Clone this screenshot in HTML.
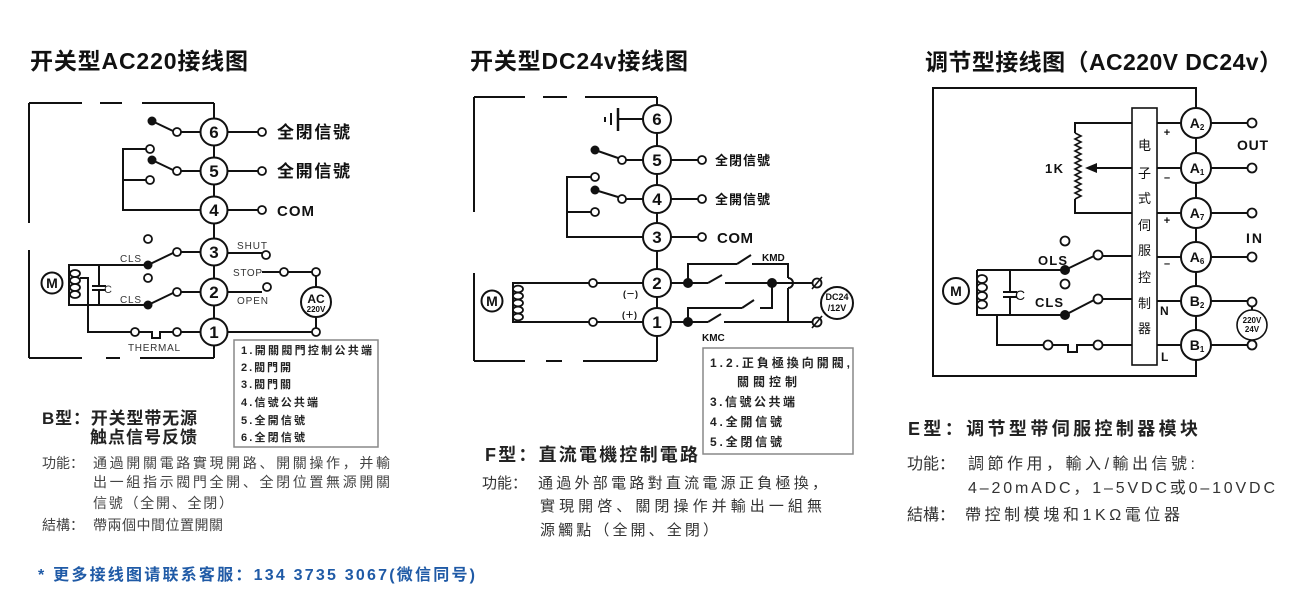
<!DOCTYPE html>
<html><head><meta charset="utf-8">
<style>
html,body{margin:0;padding:0;background:#fff;}
svg{display:block;}
text{font-family:"Liberation Sans","Noto Sans CJK SC",sans-serif;}
</style></head><body>
<svg width="1310" height="609" viewBox="0 0 1310 609" xmlns="http://www.w3.org/2000/svg">
<rect width="1310" height="609" fill="#fff"/>

<!-- Titles -->
<text x="30" y="69" font-size="23" font-weight="bold" fill="#111" textLength="218" lengthAdjust="spacing">开关型AC220接线图</text>
<text x="470" y="69" font-size="23" font-weight="bold" fill="#111" textLength="218" lengthAdjust="spacing">开关型DC24v接线图</text>
<text x="925" y="70" font-size="23" font-weight="bold" fill="#111" textLength="357" lengthAdjust="spacing">调节型接线图（AC220V  DC24v）</text>

<!-- ============ LEFT DIAGRAM ============ -->
<g stroke="#111" stroke-width="2" fill="none">
<path d="M29 103H82 M100 103H122 M142 103H214 M29 103V223 M29 250V358 M29 358H82 M106 358H120 M140 358H214 M214 103V358"/>
<path d="M228 132H258 M228 171H258 M228 210H258 M228 253H262 M262 272H280 M288 272H312 M316 276V287 M316 317V328 M228 292H262 M228 332H312"/>
<path d="M200 132H181 M173 131L152 121 M200 171H181 M173 170L152 160 M200 210H123V149H146 M123 180H146 M200 252H181 M173 253L148 265 M148 265H69V305H148 M173 293L148 305 M200 292H181 M99 265V286 M92 286H106 M92 290H106 M99 290V305 M80 278H88V332H131 M139 332H152V338H160V332H173 M181 332H200"/>
</g>
<g stroke="#111" stroke-width="1.8" fill="#fff">
<circle cx="262" cy="132" r="4"/><circle cx="262" cy="171" r="4"/><circle cx="262" cy="210" r="4"/>
<circle cx="266" cy="255" r="4"/><circle cx="284" cy="272" r="4"/><circle cx="316" cy="272" r="4"/>
<circle cx="267" cy="287" r="4"/><circle cx="316" cy="332" r="4"/>
<circle cx="177" cy="132" r="4"/><circle cx="177" cy="171" r="4"/><circle cx="150" cy="149" r="4"/><circle cx="150" cy="180" r="4"/>
<circle cx="177" cy="252" r="4"/><circle cx="148" cy="239" r="4"/><circle cx="148" cy="278" r="4"/><circle cx="177" cy="292" r="4"/>
<circle cx="135" cy="332" r="4"/><circle cx="177" cy="332" r="4"/>
<circle cx="316" cy="302" r="15" stroke-width="2"/>
<circle cx="52" cy="283" r="10.5" stroke-width="2"/>
<ellipse cx="75" cy="273.5" rx="5" ry="3.5"/><ellipse cx="75" cy="280.5" rx="5" ry="3.5"/><ellipse cx="75" cy="287.5" rx="5" ry="3.5"/><ellipse cx="75" cy="294.5" rx="5" ry="3.5"/>
</g>
<g fill="#111"><circle cx="152" cy="121" r="4.5"/><circle cx="152" cy="160" r="4.5"/><circle cx="148" cy="265" r="4.5"/><circle cx="148" cy="305" r="4.5"/></g>
<g stroke="#111" stroke-width="2" fill="#fff">
<circle cx="214" cy="132" r="13.5"/><circle cx="214" cy="171" r="13.5"/><circle cx="214" cy="210" r="13.5"/>
<circle cx="214" cy="252" r="13.5"/><circle cx="214" cy="292" r="13.5"/><circle cx="214" cy="332" r="13.5"/>
</g>
<g font-size="17" font-weight="bold" fill="#111" text-anchor="middle">
<text x="214" y="138">6</text><text x="214" y="177">5</text><text x="214" y="216">4</text>
<text x="214" y="258">3</text><text x="214" y="298">2</text><text x="214" y="338">1</text>
</g>
<g fill="#111" font-weight="bold">
<text x="277" y="138" font-size="17" textLength="73" lengthAdjust="spacing">全閉信號</text>
<text x="277" y="177" font-size="17" textLength="73" lengthAdjust="spacing">全開信號</text>
<text x="277" y="216" font-size="15" textLength="37" lengthAdjust="spacing">COM</text>
<text x="52" y="288" font-size="14" text-anchor="middle">M</text>
<text x="316" y="303" font-size="12" text-anchor="middle">AC</text>
<text x="316" y="312" font-size="8" text-anchor="middle">220V</text>
</g>
<g fill="#333" font-size="10">
<text x="237" y="249" textLength="30" lengthAdjust="spacing">SHUT</text>
<text x="233" y="276" textLength="29" lengthAdjust="spacing">STOP</text>
<text x="237" y="304" textLength="31" lengthAdjust="spacing">OPEN</text>
<text x="120" y="262" textLength="21" lengthAdjust="spacing">CLS</text>
<text x="120" y="303" textLength="21" lengthAdjust="spacing">CLS</text>
<text x="104" y="293" font-size="11">C</text>
<text x="128" y="351" textLength="52" lengthAdjust="spacing">THERMAL</text>
</g>
<rect x="234" y="340" width="144" height="107" fill="none" stroke="#888" stroke-width="1.5"/>
<g fill="#222" font-size="11" font-weight="bold">
<text x="241" y="354" textLength="131" lengthAdjust="spacing">1.開關閥門控制公共端</text>
<text x="241" y="371" textLength="50" lengthAdjust="spacing">2.閥門開</text>
<text x="241" y="388" textLength="50" lengthAdjust="spacing">3.閥門關</text>
<text x="241" y="406" textLength="77" lengthAdjust="spacing">4.信號公共端</text>
<text x="241" y="424" textLength="64" lengthAdjust="spacing">5.全開信號</text>
<text x="241" y="441" textLength="64" lengthAdjust="spacing">6.全閉信號</text>
</g>
<g fill="#222" font-size="17" font-weight="bold">
<text x="42" y="424" textLength="155" lengthAdjust="spacing">B型：开关型带无源</text>
<text x="90" y="443" textLength="107" lengthAdjust="spacing">触点信号反馈</text>
</g>
<g fill="#444" font-size="14">
<text x="42" y="468">功能：</text>
<text x="93" y="468" textLength="297" lengthAdjust="spacing">通過開關電路實現開路、開關操作，并輸</text>
<text x="93" y="487" textLength="297" lengthAdjust="spacing">出一組指示閥門全開、全閉位置無源開關</text>
<text x="93" y="508" textLength="140" lengthAdjust="spacing">信號（全開、全閉）</text>
<text x="42" y="530">結構：</text>
<text x="93" y="530" textLength="130" lengthAdjust="spacing">帶兩個中間位置開關</text>
</g>

<!-- ============ MIDDLE DIAGRAM ============ -->
<g stroke="#111" stroke-width="2" fill="none">
<path d="M474 97H525 M543 97H567 M585 97H657 M657 97V361 M474 97V212 M474 273V361 M474 361H525 M546 361H562 M583 361H657"/>
<path d="M643 119H618 M671 160H698 M671 199H698 M671 237H698"/>
<path d="M643 160H626 M618 158L595 150 M643 199H626 M618 197L595 190 M643 237H567V177H591 M567 212H591"/>
<path d="M643 283H597 M589 283H513V322H589 M597 322H643"/>
<path d="M671 283H708 M708 283L722 275 M725 283H813 M688 283V264H737 M737 264L751 255 M752 264H788V278 M788 278A5 5 0 0 1 788 288 M788 288V322 M772 283V308H760 M688 322V308H742 M742 308L754 300 M671 322H708 M708 322L721 314 M724 322H813"/>
<path d="M618 108V131" stroke-width="2.5"/><path d="M611 113V125"/><path d="M605 117V122"/>
</g>
<g stroke="#111" stroke-width="1.8" fill="#fff">
<circle cx="702" cy="160" r="4"/><circle cx="702" cy="199" r="4"/><circle cx="702" cy="237" r="4"/>
<circle cx="622" cy="160" r="4"/><circle cx="622" cy="199" r="4"/><circle cx="595" cy="177" r="4"/><circle cx="595" cy="212" r="4"/>
<circle cx="593" cy="283" r="4"/><circle cx="593" cy="322" r="4"/>
<circle cx="817" cy="283" r="4.5"/><circle cx="817" cy="322" r="4.5"/>
<circle cx="837" cy="303" r="16" stroke-width="2"/>
<circle cx="492" cy="301" r="10.5" stroke-width="2"/>
<ellipse cx="518" cy="289" rx="5" ry="3.4"/><ellipse cx="518" cy="296" rx="5" ry="3.4"/><ellipse cx="518" cy="303" rx="5" ry="3.4"/><ellipse cx="518" cy="310" rx="5" ry="3.4"/><ellipse cx="518" cy="317" rx="5" ry="3.4"/>
</g>
<g stroke="#111" stroke-width="1.6"><path d="M812 289L822 277 M812 328L822 316"/></g>
<g fill="#111"><circle cx="595" cy="150" r="4.5"/><circle cx="595" cy="190" r="4.5"/><circle cx="688" cy="283" r="5"/><circle cx="688" cy="322" r="5"/><circle cx="772" cy="283" r="5"/></g>
<g stroke="#111" stroke-width="2" fill="#fff">
<circle cx="657" cy="119" r="14"/><circle cx="657" cy="160" r="14"/><circle cx="657" cy="199" r="14"/>
<circle cx="657" cy="237" r="14"/><circle cx="657" cy="283" r="14"/><circle cx="657" cy="322" r="14"/>
</g>
<g font-size="17" font-weight="bold" fill="#111" text-anchor="middle">
<text x="657" y="125">6</text><text x="657" y="166">5</text><text x="657" y="205">4</text>
<text x="657" y="243">3</text><text x="657" y="289">2</text><text x="657" y="328">1</text>
</g>
<g fill="#111" font-weight="bold">
<text x="715" y="165" font-size="13" textLength="55" lengthAdjust="spacing">全閉信號</text>
<text x="715" y="204" font-size="13" textLength="55" lengthAdjust="spacing">全開信號</text>
<text x="717" y="243" font-size="15" textLength="36" lengthAdjust="spacing">COM</text>
<text x="492" y="306" font-size="14" text-anchor="middle">M</text>
<text x="623" y="297" font-size="9">(－)</text>
<text x="622" y="318" font-size="9">(＋)</text>
<text x="762" y="261" font-size="10">KMD</text>
<text x="702" y="341" font-size="10">KMC</text>
<text x="837" y="300" font-size="9" text-anchor="middle">DC24</text>
<text x="837" y="311" font-size="9" text-anchor="middle">/12V</text>
</g>
<rect x="703" y="348" width="150" height="106" fill="none" stroke="#888" stroke-width="1.5"/>
<g fill="#222" font-size="12" font-weight="bold">
<text x="710" y="367" textLength="140" lengthAdjust="spacing">1.2.正負極換向開閥,</text>
<text x="737" y="386" textLength="60" lengthAdjust="spacing">關閥控制</text>
<text x="710" y="406" textLength="85" lengthAdjust="spacing">3.信號公共端</text>
<text x="710" y="426" textLength="72" lengthAdjust="spacing">4.全開信號</text>
<text x="710" y="446" textLength="72" lengthAdjust="spacing">5.全閉信號</text>
</g>
<text x="485" y="461" font-size="18" font-weight="bold" fill="#222" textLength="213" lengthAdjust="spacing">F型：直流電機控制電路</text>
<g fill="#333" font-size="15">
<text x="482" y="488">功能：</text>
<text x="538" y="488" textLength="289" lengthAdjust="spacing">通過外部電路對直流電源正負極換，</text>
<text x="540" y="511" textLength="282" lengthAdjust="spacing">實現開啓、關閉操作并輸出一組無</text>
<text x="540" y="535" textLength="178" lengthAdjust="spacing">源觸點（全開、全閉）</text>
</g>

<!-- ============ RIGHT DIAGRAM ============ -->
<g stroke="#111" stroke-width="2" fill="none">
<path d="M933 88H1196V376H933Z"/>
<path d="M1211 123H1248 M1211 168H1248 M1211 213H1248 M1211 257H1248 M1211 301H1248 M1211 345H1248 M1252 306V310 M1252 340V341"/>
<path d="M1157 123H1181 M1157 168H1181 M1157 213H1181 M1157 257H1181 M1157 301H1181 M1157 345H1181"/>
<path d="M1132 123H1075V133 M1075 199V213H1132 M1132 168H1095"/>
<path d="M1075 133L1081 136L1075 139L1081 142L1075 145L1081 148L1075 151L1081 154L1075 157L1081 160L1075 163L1081 166L1075 169L1081 172L1075 175L1081 178L1075 181L1081 184L1075 187L1081 190L1075 193L1081 196L1075 199" stroke-width="1.6"/>
<path d="M1065 270L1094 256 M1102 256H1132 M1065 315L1094 300 M1102 299H1132"/>
<path d="M977 270H1065 M977 270V315H1065 M1010 270V292 M1003 292H1017 M1003 297H1017 M1010 297V315 M997 315V345H1044 M1052 345H1068V352H1077V345H1094 M1102 345H1132"/>
</g>
<polygon points="1085,168 1097,163 1097,173" fill="#111"/>
<rect x="1132" y="108" width="25" height="257" fill="#fff" stroke="#111" stroke-width="1.6"/>
<g stroke="#111" stroke-width="1.8" fill="#fff">
<circle cx="1252" cy="123" r="4.5"/><circle cx="1252" cy="168" r="4.5"/><circle cx="1252" cy="213" r="4.5"/><circle cx="1252" cy="257" r="4.5"/>
<circle cx="1252" cy="302" r="4.5"/><circle cx="1252" cy="345" r="4.5"/>
<circle cx="1252" cy="325" r="15" stroke-width="1.6"/>
<circle cx="1065" cy="241" r="4.5"/><circle cx="1098" cy="255" r="4.5"/>
<circle cx="1065" cy="284" r="4.5"/><circle cx="1098" cy="299" r="4.5"/>
<circle cx="1048" cy="345" r="4.5"/><circle cx="1098" cy="345" r="4.5"/>
<circle cx="956" cy="291" r="13" stroke-width="2"/>
<ellipse cx="982" cy="279" rx="5" ry="4"/><ellipse cx="982" cy="287.5" rx="5" ry="4"/><ellipse cx="982" cy="296" rx="5" ry="4"/><ellipse cx="982" cy="304.5" rx="5" ry="4"/>
</g>
<g fill="#111"><circle cx="1065" cy="270" r="5"/><circle cx="1065" cy="315" r="5"/></g>
<g stroke="#111" stroke-width="2" fill="#fff">
<circle cx="1196" cy="123" r="15"/><circle cx="1196" cy="168" r="15"/><circle cx="1196" cy="213" r="15"/>
<circle cx="1196" cy="257" r="15"/><circle cx="1196" cy="301" r="15"/><circle cx="1196" cy="345" r="15"/>
</g>
<g font-size="14" font-weight="bold" fill="#111" text-anchor="middle">
<text x="1197" y="128">A<tspan font-size="8" dy="2">2</tspan></text>
<text x="1197" y="173">A<tspan font-size="8" dy="2">1</tspan></text>
<text x="1197" y="218">A<tspan font-size="8" dy="2">7</tspan></text>
<text x="1197" y="262">A<tspan font-size="8" dy="2">6</tspan></text>
<text x="1197" y="306">B<tspan font-size="8" dy="2">2</tspan></text>
<text x="1197" y="350">B<tspan font-size="8" dy="2">1</tspan></text>
<text x="956" y="296">M</text>
</g>
<g font-size="13" fill="#111" text-anchor="middle">
<text x="1144.5" y="150">电</text><text x="1144.5" y="178">子</text><text x="1144.5" y="203">式</text>
<text x="1144.5" y="230">伺</text><text x="1144.5" y="255">服</text><text x="1144.5" y="282">控</text>
<text x="1144.5" y="308">制</text><text x="1144.5" y="333">器</text>
</g>
<g fill="#111" font-weight="bold">
<text x="1167" y="136" font-size="11" text-anchor="middle">+</text>
<text x="1167" y="181" font-size="11" text-anchor="middle">–</text>
<text x="1167" y="224" font-size="11" text-anchor="middle">+</text>
<text x="1167" y="267" font-size="11" text-anchor="middle">–</text>
<text x="1160" y="315" font-size="12">N</text>
<text x="1161" y="361" font-size="12">L</text>
<text x="1237" y="150" font-size="14" textLength="31" lengthAdjust="spacing">OUT</text>
<text x="1246" y="243" font-size="14" textLength="16" lengthAdjust="spacing">IN</text>
<text x="1045" y="173" font-size="13" textLength="18" lengthAdjust="spacing">1K</text>
<text x="1038" y="265" font-size="13" textLength="29" lengthAdjust="spacing">OLS</text>
<text x="1035" y="307" font-size="13" textLength="28" lengthAdjust="spacing">CLS</text>
<text x="1252" y="323" font-size="8" text-anchor="middle">220V</text>
<text x="1252" y="332" font-size="8" text-anchor="middle">24V</text>
</g>
<text x="1015" y="300" font-size="14" fill="#111">C</text>

<text x="908" y="435" font-size="18" font-weight="bold" fill="#222" textLength="290" lengthAdjust="spacing">E型：调节型带伺服控制器模块</text>
<g fill="#333" font-size="16">
<text x="907" y="469">功能：</text>
<text x="968" y="469" textLength="227" lengthAdjust="spacing">調節作用，輸入/輸出信號:</text>
<text x="968" y="493" textLength="307" lengthAdjust="spacing">4–20mADC，1–5VDC或0–10VDC</text>
<text x="907" y="520">結構：</text>
<text x="965" y="520" textLength="215" lengthAdjust="spacing">帶控制模塊和1KΩ電位器</text>
</g>

<!-- Bottom note -->
<text x="38" y="580" font-size="16" font-weight="bold" fill="#1f5aa6" textLength="437" lengthAdjust="spacing">* 更多接线图请联系客服：134 3735 3067(微信同号)</text>
</svg>
</body></html>
